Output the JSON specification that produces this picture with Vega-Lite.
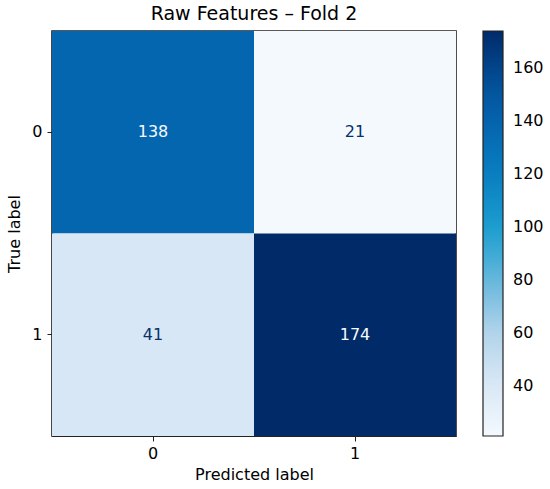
{
  "$schema": "https://vega.github.io/schema/vega-lite/v6.json",
  "width": 404,
  "height": 405,
  "autosize": {"type": "none"},
  "padding": {"left": 52, "top": 31, "right": 94, "bottom": 53},
  "background": "white",
  "config": {
    "font": "DejaVu Sans",
    "view": {"stroke": "#222222", "strokeWidth": 1.6},
    "axis": {
      "labelFont": "DejaVu Sans",
      "titleFont": "DejaVu Sans",
      "labelFontSize": 16,
      "titleFontSize": 16,
      "titleFontWeight": "normal",
      "labelColor": "#000000",
      "titleColor": "#000000",
      "tickColor": "#222222",
      "domainColor": "#222222",
      "tickSize": 5,
      "tickWidth": 1,
      "domainWidth": 1.2,
      "grid": false,
      "zindex": 1
    },
    "legend": {
      "labelFont": "DejaVu Sans",
      "labelFontSize": 16,
      "labelColor": "#000000"
    }
  },
  "title": {
    "text": "Raw Features – Fold 2",
    "font": "DejaVu Sans",
    "fontSize": 19,
    "fontWeight": "normal",
    "color": "#000000",
    "anchor": "middle",
    "offset": 7
  },
  "data": {
    "values": [
      {"true_label": "0", "pred_label": "0", "count": 138},
      {"true_label": "0", "pred_label": "1", "count": 21},
      {"true_label": "1", "pred_label": "0", "count": 41},
      {"true_label": "1", "pred_label": "1", "count": 174}
    ]
  },
  "encoding": {
    "x": {
      "field": "pred_label",
      "type": "nominal",
      "title": "Predicted label",
      "scale": {"paddingInner": 0, "paddingOuter": 0},
      "axis": {"labelAngle": 0, "labelPadding": 4, "titlePadding": 5}
    },
    "y": {
      "field": "true_label",
      "type": "nominal",
      "title": "True label",
      "scale": {"paddingInner": 0, "paddingOuter": 0},
      "axis": {"labelPadding": 5, "titlePadding": 9}
    }
  },
  "layer": [
    {
      "mark": {"type": "rect"},
      "encoding": {
        "color": {
          "field": "count",
          "type": "quantitative",
          "scale": {
            "domain": [21, 40.125, 59.25, 78.375, 97.5, 116.625, 135.75, 154.875, 174],
            "range": ["#f4f9fe", "#d9e8f5", "#b4d5eb", "#6cb9dc", "#20a1d1", "#0a83c3", "#0569b3", "#034f98", "#012a69"],
            "interpolate": "rgb"
          },
          "legend": {
            "title": null,
            "orient": "right",
            "offset": 27,
            "padding": 0,
            "gradientLength": 405,
            "gradientThickness": 20,
            "gradientStrokeColor": "#222222",
            "gradientStrokeWidth": 1.2,
            "values": [40, 60, 80, 100, 120, 140, 160],
            "labelOffset": 10,
            "labelOverlap": false
          }
        }
      }
    },
    {
      "mark": {"type": "text", "fontSize": 16, "font": "DejaVu Sans"},
      "encoding": {
        "text": {"field": "count", "type": "quantitative"},
        "color": {
          "condition": {"test": "datum.count > 97.5", "value": "#f7fbff"},
          "value": "#08306b"
        }
      }
    }
  ]
}
